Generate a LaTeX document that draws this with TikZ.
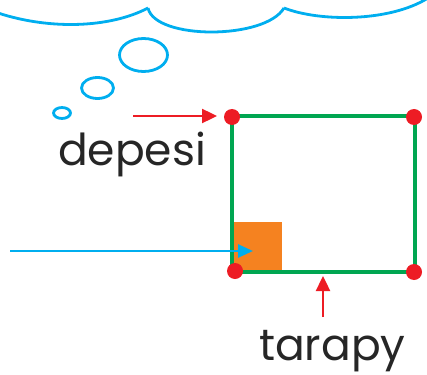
\documentclass[tikz,border=0pt]{standalone}
\usepackage{fontspec}
\setmainfont{Poppins}
\usetikzlibrary{arrows.meta}
\definecolor{cblue}{HTML}{00AEEF}
\definecolor{cgreen}{HTML}{00A651}
\definecolor{cred}{HTML}{ED1C24}
\definecolor{corange}{HTML}{F58220}
\tikzset{
  cloudline/.style={draw=cblue, line width=2.8pt},
  reddot/.style={circle, fill=cred, inner sep=0pt, minimum size=16pt},
  redarrow/.style={draw=cred, line width=2.4pt, -{Triangle[length=15pt,width=14pt]}},
  bluearrow/.style={draw=cblue, line width=2.6pt, -{Triangle[length=15pt,width=13pt]}},
  label/.style={inner sep=0pt, font=\fontsize{44}{50}\selectfont, text=black!85}
}
\begin{document}
\begin{tikzpicture}[x=1pt,y=-1pt]
\useasboundingbox (0,0) rectangle (427,374);
% cloud
\draw[cloudline] (-2,13) .. controls (50,30) and (110,28) .. (148,8);
\draw[cloudline] (148,8) .. controls (155,40) and (265,40) .. (284,8);
\draw[cloudline] (284,8) .. controls (320,22) and (390,22) .. (428,-2);
% thought bubbles
\draw[cloudline] (143.5,55) ellipse [x radius=24, y radius=16.5];
\draw[cloudline] (97.5,88) ellipse [x radius=16, y radius=10.5];
\draw[cloudline] (62,113) ellipse [x radius=8.5, y radius=5.5];
% square
\coordinate (tl) at (232,116);
\coordinate (tr) at (415,116);
\coordinate (br) at (415,272);
\coordinate (bl) at (232,272);
\fill[corange] (234,222) rectangle (282,271);
\draw[cgreen, line width=4.5pt] (tl) -- (tr) -- (br) -- (bl) -- cycle;
\node[reddot] (dtl) at (232,117) {};
\node[reddot] (dtr) at (414,117) {};
\node[reddot] (dbl) at (235,271) {};
\node[reddot] (dbr) at (414,272) {};
% arrows
\coordinate (ra0) at (133,116);
\coordinate (ra1) at (217,116);
\draw[redarrow] (ra0) -- (ra1);
\coordinate (ba0) at (10,251);
\coordinate (ba1) at (253,251);
\draw[bluearrow] (ba0) -- (ba1);
\coordinate (rb0) at (323,317);
\coordinate (rb1) at (323,276);
\draw[redarrow] (rb0) -- (rb1);
% labels
\node[label, anchor=base west] (depesi) at (58,165) {depesi};
\node[label, anchor=base west] (tarapy) at (259,360) {tarapy};
\end{tikzpicture}
\end{document}
